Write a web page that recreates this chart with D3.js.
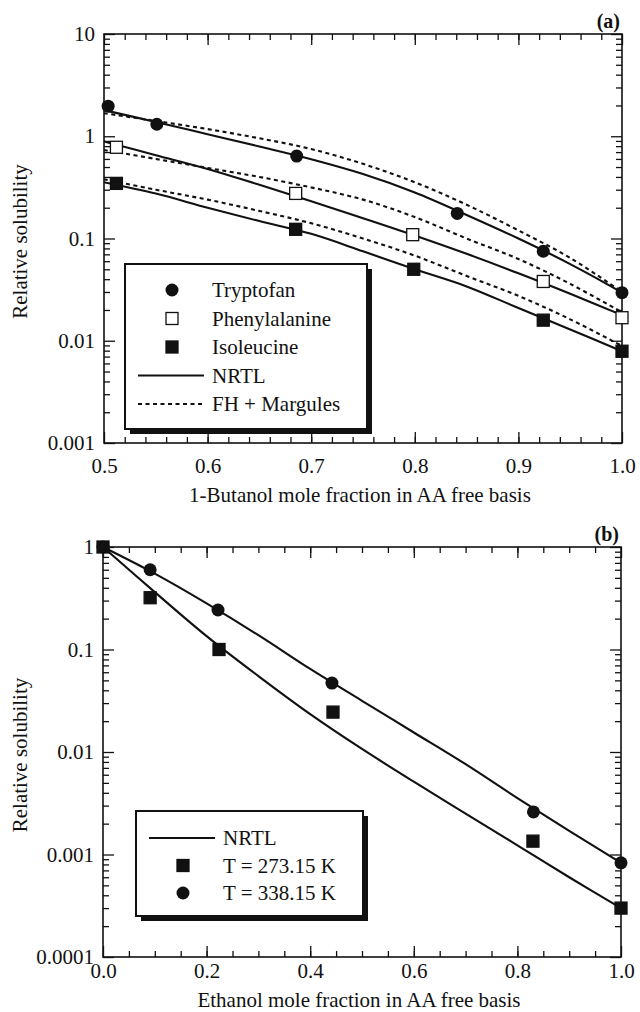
<!DOCTYPE html>
<html>
<head>
<meta charset="utf-8">
<script src="https://cdn.jsdelivr.net/npm/d3@7"></script>
<style>
body { margin: 0; background: #fff; }
svg { color: #111; }
text { font-family: "Liberation Serif", "Times New Roman", serif; font-size: 21px; fill: #111; }
.tag { font-weight: bold; font-size: 20px; }
</style>
</head>
<body>
<svg id="fig" width="640" height="1012"></svg>
<script>
// ---- panel (a): 1-butanol ----
var aXTicks = [0.5, 0.6, 0.7, 0.8, 0.9, 1.0];
var aXLabels = ["0.5", "0.6", "0.7", "0.8", "0.9", "1.0"];
var aYTicks = [10, 1, 0.1, 0.01, 0.001];
var aYLabels = ["10", "1", "0.1", "0.01", "0.001"];

var tryX = [0.504, 0.551, 0.686, 0.841, 0.924, 1.0];
var tryY = [1.97, 1.31, 0.64, 0.176, 0.075, 0.0295];
var pheX = [0.512, 0.685, 0.798, 0.924, 1.0];
var pheY = [0.78, 0.276, 0.109, 0.038, 0.0168];
var isoX = [0.512, 0.685, 0.799, 0.924, 1.0];
var isoY = [0.346, 0.123, 0.050, 0.0159, 0.0079];

var aCurveX = [0.5, 0.55, 0.6, 0.65, 0.7, 0.75, 0.8, 0.85, 0.9, 0.95, 1.0];
var tryNrtl = [1.80, 1.38, 1.047, 0.794, 0.596, 0.427, 0.282, 0.170, 0.100, 0.0562, 0.0295];
var tryFh   = [1.68, 1.41, 1.175, 0.955, 0.75, 0.537, 0.355, 0.214, 0.120, 0.0646, 0.030];
var pheNrtl = [0.89, 0.653, 0.479, 0.335, 0.232, 0.158, 0.107, 0.0708, 0.0457, 0.0288, 0.0178];
var pheFh   = [0.733, 0.60, 0.49, 0.40, 0.316, 0.24, 0.162, 0.100, 0.063, 0.036, 0.019];
var isoNrtl = [0.355, 0.275, 0.20, 0.148, 0.111, 0.075, 0.050, 0.034, 0.0209, 0.0129, 0.0079];
var isoFh   = [0.38, 0.30, 0.24, 0.186, 0.141, 0.10, 0.068, 0.043, 0.0275, 0.0162, 0.0089];

// ---- panel (b): ethanol ----
var bXTicks = [0, 0.2, 0.4, 0.6, 0.8, 1.0];
var bXLabels = ["0.0", "0.2", "0.4", "0.6", "0.8", "1.0"];
var bYTicks = [1, 0.1, 0.01, 0.001, 0.0001];
var bYLabels = ["1", "0.1", "0.01", "0.001", "0.0001"];

var t273X = [0, 0.091, 0.224, 0.444, 0.83, 1.0];
var t273Y = [1, 0.32, 0.10, 0.0245, 0.00135, 0.0003];
var t338X = [0, 0.091, 0.222, 0.442, 0.831, 1.0];
var t338Y = [1, 0.60, 0.243, 0.047, 0.0026, 0.00083];

var bCurveX = [0, 0.1, 0.2, 0.3, 0.4, 0.5, 0.6, 0.7, 0.8, 0.9, 1.0];
var nrtl338 = [1, 0.55, 0.282, 0.138, 0.0646, 0.0316, 0.0155, 0.0076, 0.00355, 0.0017, 0.00083];
var nrtl273 = [1, 0.363, 0.135, 0.055, 0.0234, 0.0107, 0.00513, 0.00251, 0.00123, 0.0006, 0.0003];

var svg = d3.select("#fig");
svg.append("rect").attr("width", 640).attr("height", 1012).attr("fill", "#fff");

function zip(xs, ys) { return xs.map(function(d, i) { return [d, ys[i]]; }); }

function panel(o) {
  var x = d3.scaleLinear().domain(o.xDomain).range([o.left, o.right]);
  var y = d3.scaleLog().domain(o.yDomain).range([o.bottom, o.top]);
  var g = svg.append("g");

  var yMinor = y.ticks().filter(function(d) {
    return Math.abs(Math.log10(d) - Math.round(Math.log10(d))) > 1e-6;
  });

  function style(sel) {
    sel.select(".domain").remove();
    sel.selectAll("line").attr("stroke-width", 1.3);
  }
  // bottom
  g.append("g").attr("transform", "translate(0," + o.bottom + ")")
    .call(d3.axisBottom(x).tickValues(o.xMinor).tickFormat("").tickSizeInner(-6).tickSizeOuter(0)).call(style);
  g.append("g").attr("transform", "translate(0," + o.bottom + ")")
    .call(d3.axisBottom(x).tickValues(o.xTicks).tickFormat(function(d, i) { return o.xLabels[i]; })
      .tickSizeInner(-11).tickSizeOuter(0).tickPadding(o.xPad)).call(style);
  // top
  g.append("g").attr("transform", "translate(0," + o.top + ")")
    .call(d3.axisTop(x).tickValues(o.xMinor).tickFormat("").tickSizeInner(-6).tickSizeOuter(0)).call(style);
  g.append("g").attr("transform", "translate(0," + o.top + ")")
    .call(d3.axisTop(x).tickValues(o.xTicks).tickFormat("").tickSizeInner(-11).tickSizeOuter(0)).call(style);
  // left
  g.append("g").attr("transform", "translate(" + o.left + ",0)")
    .call(d3.axisLeft(y).tickValues(yMinor).tickFormat("").tickSizeInner(-6).tickSizeOuter(0)).call(style);
  g.append("g").attr("transform", "translate(" + o.left + ",0)")
    .call(d3.axisLeft(y).tickValues(o.yTicks).tickFormat(function(d, i) { return o.yLabels[i]; })
      .tickSizeInner(-11).tickSizeOuter(0).tickPadding(9)).call(style);
  // right
  g.append("g").attr("transform", "translate(" + o.right + ",0)")
    .call(d3.axisRight(y).tickValues(yMinor).tickFormat("").tickSizeInner(-6).tickSizeOuter(0)).call(style);
  g.append("g").attr("transform", "translate(" + o.right + ",0)")
    .call(d3.axisRight(y).tickValues(o.yTicks).tickFormat("").tickSizeInner(-11).tickSizeOuter(0)).call(style);

  g.append("rect").attr("x", o.left).attr("y", o.top)
    .attr("width", o.right - o.left).attr("height", o.bottom - o.top)
    .attr("fill", "none").attr("stroke", "#111").attr("stroke-width", 1.6);

  // titles
  g.append("text").attr("x", (o.left + o.right) / 2 - 3).attr("y", o.titleY)
    .attr("text-anchor", "middle").text(o.xTitle);
  g.append("text").attr("transform", "translate(27," + ((o.top + o.bottom) / 2 + 3) + ") rotate(-90)")
    .attr("text-anchor", "middle").text("Relative solubility");
  g.append("text").attr("class", "tag").attr("x", o.right - 2).attr("y", o.top - 6)
    .attr("text-anchor", "end").text(o.tag);

  var line = d3.line().x(function(d) { return x(d[0]); }).y(function(d) { return y(d[1]); })
    .curve(d3.curveCatmullRom.alpha(0.5));
  o.curves.forEach(function(c) {
    g.append("path").datum(zip(o.curveX, c.v)).attr("d", line)
      .attr("fill", "none").attr("stroke", "#111").attr("stroke-width", 2.1)
      .attr("stroke-dasharray", c.dash ? "4,3.5" : null);
  });

  o.points.forEach(function(p) {
    var pts = zip(p.x, p.y);
    if (p.shape === "circle") {
      g.selectAll(null).data(pts).enter().append("circle")
        .attr("cx", function(d) { return x(d[0]); }).attr("cy", function(d) { return y(d[1]); })
        .attr("r", 6.5).attr("fill", "#111");
    } else {
      g.selectAll(null).data(pts).enter().append("rect")
        .attr("x", function(d) { return x(d[0]) - 6; }).attr("y", function(d) { return y(d[1]) - 6; })
        .attr("width", 12).attr("height", 12)
        .attr("fill", p.open ? "#fff" : "#111").attr("stroke", "#111").attr("stroke-width", 1.3);
    }
  });

  // legend
  var L = o.legend;
  var lg = g.append("g");
  lg.append("rect").attr("x", L.x + 5).attr("y", L.y + 5).attr("width", L.w).attr("height", L.h).attr("fill", "#111");
  lg.append("rect").attr("x", L.x).attr("y", L.y).attr("width", L.w).attr("height", L.h)
    .attr("fill", "#fff").attr("stroke", "#111").attr("stroke-width", 2);
  L.items.forEach(function(it, i) {
    var cy = L.y + L.first + i * L.step;
    var mx = (L.lineX0 + L.lineX1) / 2 + L.markShift;
    if (it.kind === "circle") {
      lg.append("circle").attr("cx", mx).attr("cy", cy).attr("r", 6.5).attr("fill", "#111");
    } else if (it.kind === "square") {
      lg.append("rect").attr("x", mx - 6).attr("y", cy - 6).attr("width", 12).attr("height", 12)
        .attr("fill", it.open ? "#fff" : "#111").attr("stroke", "#111").attr("stroke-width", 1.3);
    } else {
      lg.append("line").attr("x1", L.lineX0).attr("x2", L.lineX1).attr("y1", cy).attr("y2", cy)
        .attr("stroke", "#111").attr("stroke-width", 2).attr("stroke-dasharray", it.dash ? "4,3.5" : null);
    }
    lg.append("text").attr("x", L.textX).attr("y", cy).attr("dy", "0.35em").text(it.label);
  });
}

panel({
  left: 104, right: 622, top: 34, bottom: 443,
  xDomain: [0.5, 1.0], yDomain: [0.001, 10],
  xTicks: aXTicks, xLabels: aXLabels, xMinor: d3.range(0.52, 0.999, 0.02),
  yTicks: aYTicks, yLabels: aYLabels, xPad: 15, titleY: 502,
  xTitle: "1-Butanol mole fraction in AA free basis", tag: "(a)",
  curveX: aCurveX,
  curves: [
    { v: tryNrtl }, { v: tryFh, dash: true },
    { v: pheNrtl }, { v: pheFh, dash: true },
    { v: isoNrtl }, { v: isoFh, dash: true }
  ],
  points: [
    { x: tryX, y: tryY, shape: "circle" },
    { x: pheX, y: pheY, shape: "square", open: true },
    { x: isoX, y: isoY, shape: "square" }
  ],
  legend: {
    x: 125, y: 264, w: 242, h: 165, first: 26, step: 28.5,
    lineX0: 138, lineX1: 204, markShift: 1, textX: 212,
    items: [
      { kind: "circle", label: "Tryptofan" },
      { kind: "square", open: true, label: "Phenylalanine" },
      { kind: "square", label: "Isoleucine" },
      { kind: "line", label: "NRTL" },
      { kind: "line", dash: true, label: "FH + Margules" }
    ]
  }
});

panel({
  left: 103, right: 621, top: 547, bottom: 957,
  xDomain: [0, 1.0], yDomain: [0.0001, 1],
  xTicks: bXTicks, xLabels: bXLabels, xMinor: d3.range(0.05, 0.999, 0.05),
  yTicks: bYTicks, yLabels: bYLabels, xPad: 6, titleY: 1007,
  xTitle: "Ethanol mole fraction in AA free basis", tag: "(b)",
  curveX: bCurveX,
  curves: [{ v: nrtl338 }, { v: nrtl273 }],
  points: [
    { x: t338X, y: t338Y, shape: "circle" },
    { x: t273X, y: t273Y, shape: "square" }
  ],
  legend: {
    x: 136, y: 811, w: 227, h: 105, first: 27, step: 27.5,
    lineX0: 149, lineX1: 215, markShift: 1, textX: 223,
    items: [
      { kind: "line", label: "NRTL" },
      { kind: "square", label: "T = 273.15 K" },
      { kind: "circle", label: "T = 338.15 K" }
    ]
  }
});
</script>
</body>
</html>
